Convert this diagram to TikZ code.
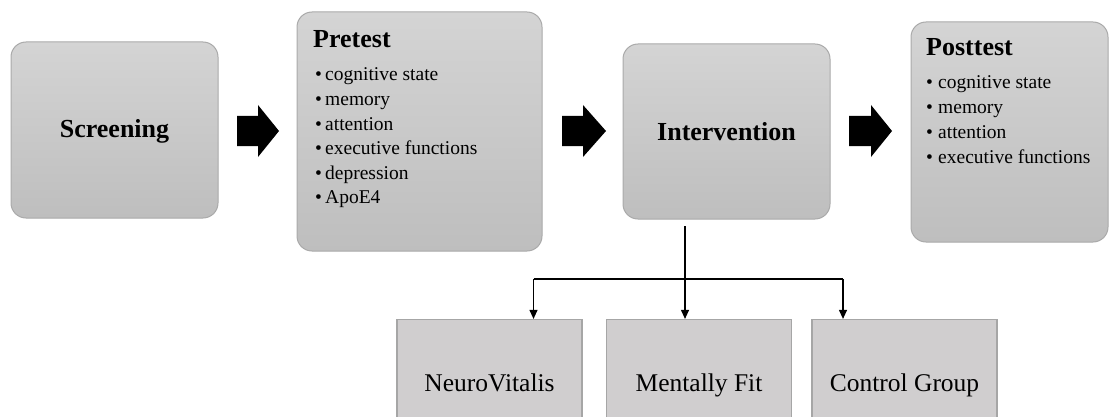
\documentclass[tikz,border=0pt]{standalone}
\usepackage{fontspec}
\setmainfont{Liberation Serif}
\usetikzlibrary{arrows.meta}
\definecolor{gtop}{RGB}{212,212,212}
\definecolor{gbot}{RGB}{190,190,190}
\definecolor{gedge}{RGB}{170,170,170}
\definecolor{sfill}{RGB}{208,206,207}
\definecolor{sedge}{RGB}{166,166,166}
\begin{document}
\begin{tikzpicture}[x=1pt,y=-1pt,
  rbox/.style={draw=gedge, line width=1pt, rounded corners=15pt, top color=gtop, bottom color=gbot, inner sep=0pt},
  sbox/.style={draw=sedge, line width=1.2pt, fill=sfill, inner sep=0pt, minimum width=185pt, minimum height=139pt,
     font=\fontsize{25.5}{30}\selectfont, text height=0.68em, text depth=0.22em},
  btitle/.style={font=\fontsize{26}{30}\selectfont\bfseries, inner sep=0pt},
  bitem/.style={font=\fontsize{19.5}{24}\selectfont, inner sep=0pt, anchor=base west},
  conn/.style={line width=1.1pt, draw=black},
  tip/.style={-{Triangle[length=9pt,width=8pt]}},
  blockarrow/.style={fill=black}
]
\clip (0,0) rectangle (1110,417);
\fill[white] (0,0) rectangle (1110,417);

% main boxes
\node[rbox, minimum width=207pt, minimum height=176pt] (scr) at (114.5,130) {};
\node[btitle] (scrt) at (114.5,131) {Screening};

\node[rbox, minimum width=245pt, minimum height=239pt] (pre) at (419.5,131.5) {};
\node[btitle, anchor=base west] (pret) at (313,48) {Pretest};
\foreach \t [count=\i] in {cognitive state, memory, attention, executive functions, depression, ApoE4}
  \node[bitem] (pre\i) at (315,{81+24.5*(\i-1)}) {\makebox[10pt][l]{•}\t};

\node[rbox, minimum width=207pt, minimum height=175pt] (int) at (726.5,131.5) {};
\node[btitle] (intt) at (726.5,131.5) {Intervention};

\node[rbox, minimum width=197pt, minimum height=220pt] (post) at (1009.5,132) {};
\node[btitle, anchor=base west] (postt) at (926,55.5) {Posttest};
\foreach \t [count=\i] in {cognitive state, memory, attention, executive functions}
  \node[bitem] (post\i) at (926,{89+24.7*(\i-1)}) {\makebox[12pt][l]{•}\t};

% block arrows
\foreach \x/\b/\e in {237/258/279, 562/583/606, 849/871/892}
  \fill[blockarrow] (\x,116) -- (\b,116) -- (\b,105) -- (\e,131) -- (\b,157) -- (\b,146) -- (\x,146) -- cycle;

% bottom boxes
\node[sbox] (nv) at (489.5,389) {NeuroVitalis};
\node[sbox] (mf) at (699,389) {Mentally Fit};
\node[sbox] (cg) at (904.5,389) {Control Group};

% connectors
\coordinate (top) at (685,226);
\coordinate (barL) at (533.5,279);
\coordinate (barR) at (843,279);
\draw[conn, tip] (top) -- (top |- mf.north);
\draw[conn] (barL) -- (barR);
\draw[conn, tip] (barL) -- (barL |- nv.north);
\draw[conn, tip] (barR) -- (barR |- cg.north);
\end{tikzpicture}
\end{document}
